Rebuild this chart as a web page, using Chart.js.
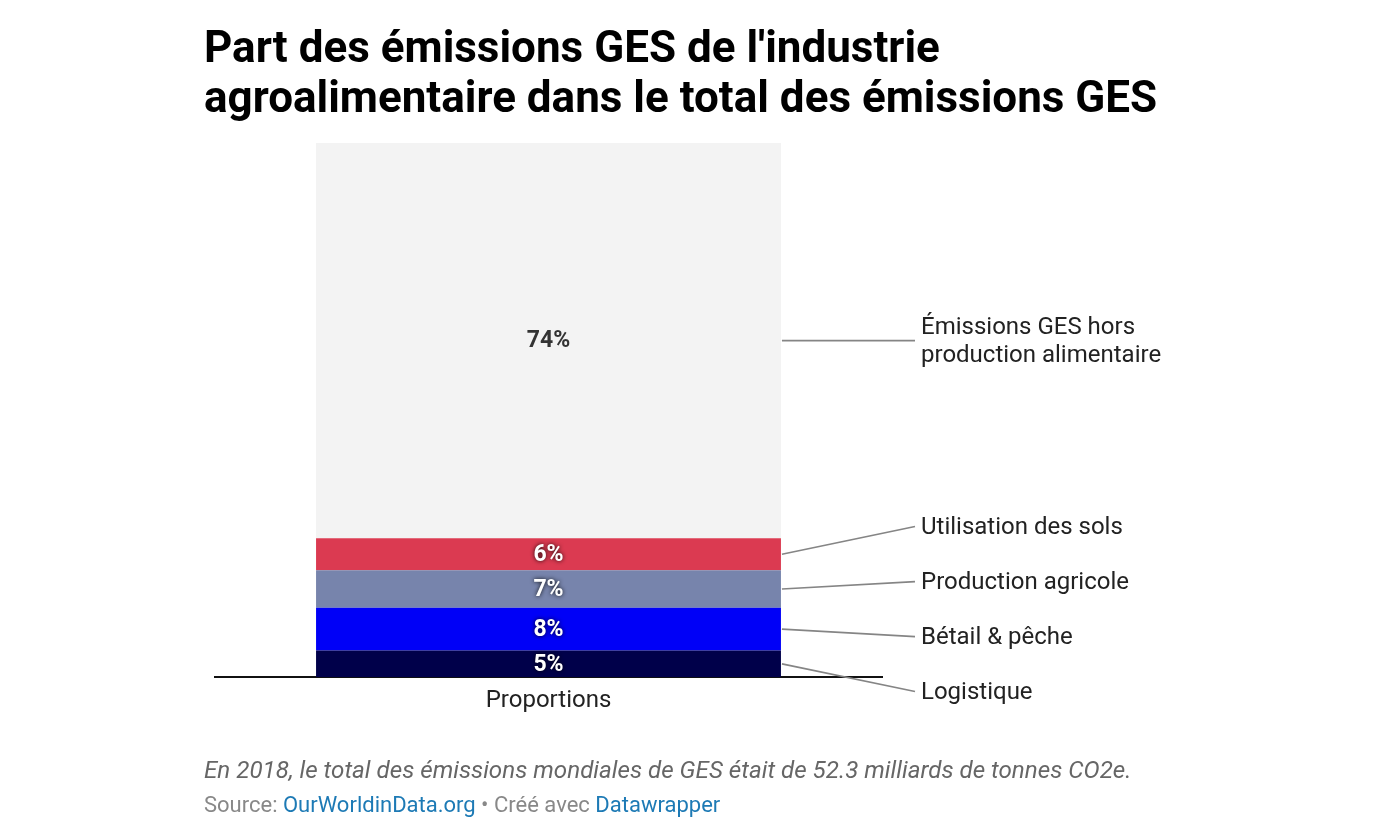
<!DOCTYPE html>
<html lang="fr">
<head>
<meta charset="utf-8">
<script src="https://cdn.jsdelivr.net/npm/chart.js@4"></script>
<style>
  html, body { margin: 0; padding: 0; background: #fff; }
  body { width: 1374px; height: 838px; position: relative; overflow: hidden; font-family: Roboto, sans-serif; }
  #title { position: absolute; left: 204px; top: 22px; font-size: 44px; font-weight: 700; line-height: 50px; color: #000; }
  #wrap { position: absolute; left: 0; top: 0; width: 1374px; height: 838px; }
  #notes { position: absolute; left: 204px; top: 755px; color: #666; }
  #notes .desc { font-style: italic; font-size: 24.2px; line-height: 30px; }
  #notes .src { font-size: 22px; line-height: 30px; color: #888; margin-top: 5px; }
  #notes a { color: #1d7ab5; text-decoration: none; }
</style>
</head>
<body>
<div id="wrap"><canvas id="chart" width="1374" height="838"></canvas></div>
<div id="title">Part des émissions GES de l'industrie<br>agroalimentaire dans le total des émissions GES</div>
<div id="notes">
  <div class="desc">En 2018, le total des émissions mondiales de GES était de 52.3 milliards de tonnes CO2e.</div>
  <div class="src">Source: <a>OurWorldinData.org</a> • Créé avec <a>Datawrapper</a></div>
</div>
<script>
// données (bas vers haut)
const categories = ["Proportions"];
const seriesNames = [
  "Logistique",
  "Bétail & pêche",
  "Production agricole",
  "Utilisation des sols",
  "Émissions GES hors\nproduction alimentaire"
];
const seriesValues = [5, 8, 7, 6, 74];
const seriesColors = ["#00004a", "#0000f7", "#7784ac", "#db3a51", "#f3f3f3"];
const valueColors = ["#fff", "#fff", "#fff", "#fff", "#333"];

// labels + leader lines on the right of the bar
const sideLabels = {
  id: 'sideLabels',
  afterDatasetsDraw(chart) {
    const ctx = chart.ctx;
    const items = [];
    chart.data.datasets.forEach((ds, i) => {
      const bar = chart.getDatasetMeta(i).data[0];
      const mid = (bar.y + bar.base) / 2;
      const right = bar.x + bar.width / 2;
      // valeur dans la barre
      ctx.save();
      ctx.font = "700 23px Roboto";
      ctx.textAlign = "center";
      ctx.textBaseline = "middle";
      if (valueColors[i] === "#fff") {
        ctx.shadowColor = "rgba(0,0,0,0.9)";
        ctx.shadowBlur = 4;
      }
      ctx.fillStyle = valueColors[i];
      ctx.fillText(seriesValues[i] + "%", bar.x, mid + 1);
      ctx.restore();
      const lines = seriesNames[i].split("\n");
      items.push({ mid, right, lines, y: mid, half: lines.length * 14 + 13.5 });
    });

    // spread labels so they don't overlap
    items.sort((a, b) => a.mid - b.mid);
    let groups = items.map(it => ({ members: [it], top: 0 }));
    const layout = g => {
      const total = g.members.reduce((s, m) => s + m.half * 2, 0);
      const center = g.members.reduce((s, m) => s + m.mid, 0) / g.members.length;
      let y = center - total / 2;
      g.members.forEach(m => { m.y = y + m.half; y += m.half * 2; });
      g.top = g.members[0].y - g.members[0].half;
      g.bottom = y;
    };
    groups.forEach(layout);
    let merged = true;
    while (merged) {
      merged = false;
      for (let k = 0; k < groups.length - 1; k++) {
        if (groups[k].bottom > groups[k + 1].top) {
          groups[k].members = groups[k].members.concat(groups[k + 1].members);
          groups.splice(k + 1, 1);
          layout(groups[k]);
          merged = true;
          break;
        }
      }
    }

    const lineEnd = chart.chartArea.right + 33;
    ctx.save();
    items.forEach(it => {
      ctx.strokeStyle = "#858585";
      ctx.lineWidth = 1.6;
      ctx.beginPath();
      ctx.moveTo(it.right + 1, it.mid);
      ctx.lineTo(lineEnd, it.y);
      ctx.stroke();
      ctx.fillStyle = "#222";
      ctx.font = "400 24px Roboto";
      ctx.textAlign = "left";
      ctx.textBaseline = "middle";
      const n = it.lines.length;
      it.lines.forEach((t, j) => {
        ctx.fillText(t, lineEnd + 6, it.y + 1 + (j - (n - 1) / 2) * 28);
      });
    });
    ctx.restore();
  }
};

new Chart(document.getElementById("chart"), {
  type: "bar",
  data: {
    labels: categories,
    datasets: seriesNames.map((name, i) => ({
      label: name,
      data: [seriesValues[i]],
      backgroundColor: seriesColors[i],
      borderWidth: 0,
      categoryPercentage: 1,
      barPercentage: 0.697
    }))
  },
  options: {
    responsive: false,
    animation: false,
    events: [],
    layout: { padding: { left: 215, right: 492, top: 143, bottom: 122 } },
    plugins: { legend: { display: false }, tooltip: { enabled: false } },
    scales: {
      x: {
        stacked: true,
        grid: { display: false },
        border: { display: true, color: "#111", width: 2 },
        ticks: { color: "#222", font: { family: "Roboto", size: 24 }, padding: 1 }
      },
      y: {
        stacked: true,
        display: false,
        min: 0,
        max: 100
      }
    }
  },
  plugins: [sideLabels]
});
</script>
</body>
</html>
